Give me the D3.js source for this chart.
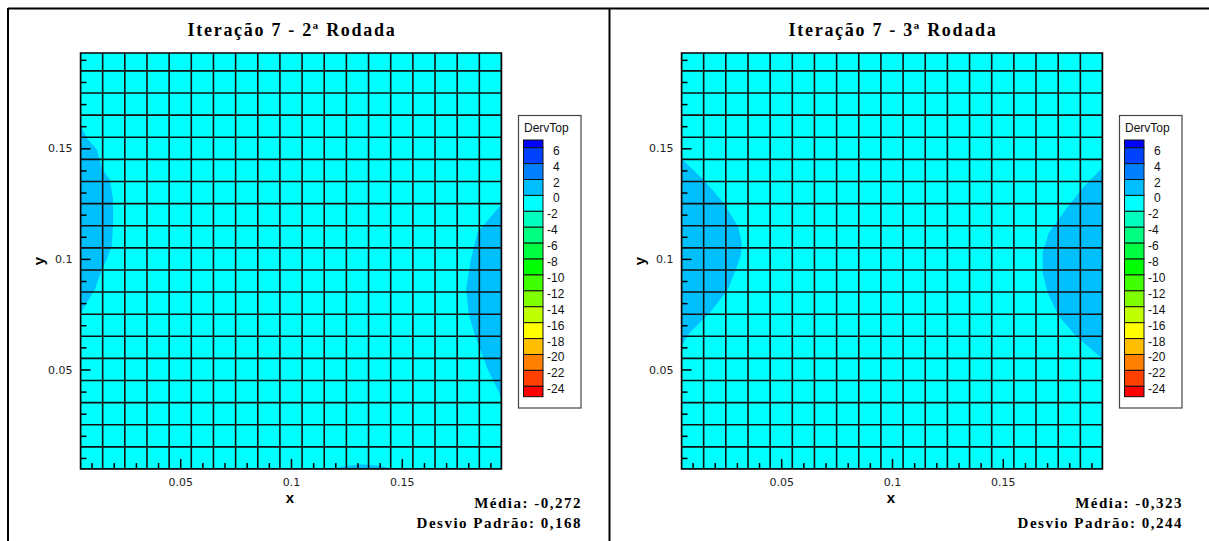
<!DOCTYPE html>
<html>
<head>
<meta charset="utf-8">
<script src="https://cdn.jsdelivr.net/npm/d3@7"></script>
<style>
  html, body { margin: 0; padding: 0; background: #fff; }
  svg { display: block; }
</style>
</head>
<body>
<svg id="chart" width="1209" height="541"></svg>
<script>
// ---------------- DATA ----------------
const panelTitles = ["Iteração 7 - 2ª Rodada", "Iteração 7 - 3ª Rodada"];
const panelMeans = ["-0,272", "-0,323"];
const panelStdDevs = ["0,168", "0,244"];

// domain of the mesh (m)
const xDomain = [0.005, 0.195];
const yDomain = [0.005, 0.1931];

// mesh lines (cell edges)
const meshX = [0.005,0.015,0.025,0.035,0.045,0.055,0.065,0.075,0.085,0.095,0.105,0.115,0.125,0.135,0.145,0.155,0.165,0.175,0.185,0.195];
const meshY = [0.005,0.015,0.025,0.035,0.045,0.055,0.065,0.075,0.085,0.095,0.105,0.115,0.125,0.135,0.145,0.155,0.165,0.175,0.185];

// axis ticks
const majorTicks = [0.05, 0.1, 0.15];
const majorTickLabels = ["0.05", "0.1", "0.15"];
const minorTicks = [0.01,0.02,0.03,0.04,0.06,0.07,0.08,0.09,0.11,0.12,0.13,0.14,0.16,0.17,0.18,0.19];

// legend (DervTop) levels and band colours (top band > 6, bottom band < -24)
const legendLevels = [6,4,2,0,-2,-4,-6,-8,-10,-12,-14,-16,-18,-20,-22,-24];
const legendColors = ["#0000ff","#0040ff","#0080ff","#00bfff","#00ffff","#00ffbf","#00ff80","#00ff40",
                      "#00ff00","#40ff00","#80ff00","#bfff00","#ffff00","#ffbf00","#ff8000","#ff4000","#ff0000"];

// background band (-2..0) fills the field; regions of the 0..2 band (x, y in m)
const run2Band0to2 = [
  [[0.005,0.160],[0.0084,0.154],[0.0124,0.1495],[0.0147,0.1405],[0.0183,0.136],[0.0197,0.127],
   [0.0197,0.1156],[0.0191,0.1057],[0.0165,0.099],[0.0146,0.0952],[0.0115,0.0862],[0.0055,0.0762],[0.005,0.0753]],
  [[0.195,0.1247],[0.1842,0.112],[0.1812,0.0998],[0.1790,0.0862],[0.1803,0.0749],[0.1826,0.0667],
   [0.1888,0.050],[0.1939,0.0396],[0.195,0.0364]],
  [[0.1179,0.005],[0.1247,0.0064],[0.1324,0.0071],[0.1405,0.0064],[0.1464,0.005]]
];
const run3Band0to2 = [
  [[0.005,0.1453],[0.0147,0.136],[0.0238,0.1256],[0.0305,0.1148],[0.0322,0.1075],[0.0319,0.102],
   [0.0301,0.0967],[0.0260,0.0862],[0.0179,0.0758],[0.0088,0.0667],[0.005,0.0605]],
  [[0.195,0.1413],[0.1867,0.1329],[0.1785,0.1224],[0.1708,0.1118],[0.1680,0.1029],[0.1680,0.0939],
   [0.1702,0.0848],[0.1753,0.0741],[0.1830,0.0651],[0.1943,0.0554],[0.195,0.0550]]
];
const panelBands = [run2Band0to2, run3Band0to2];
const fieldColor = "#00ffff";   // band -2..0
const bandColor = "#00bfff";    // band 0..2

// ---------------- DRAW ----------------
const svg = d3.select("#chart");
const panelOffset = 601;

// outer frame
svg.append("line").attr("x1", 8).attr("x2", 1209).attr("y1", 8.5).attr("y2", 8.5)
  .attr("stroke", "#000").attr("stroke-width", 2);
svg.append("line").attr("x1", 8).attr("x2", 8).attr("y1", 8).attr("y2", 541)
  .attr("stroke", "#000").attr("stroke-width", 2);
svg.append("line").attr("x1", 609.5).attr("x2", 609.5).attr("y1", 8).attr("y2", 541)
  .attr("stroke", "#000").attr("stroke-width", 2);

panelTitles.forEach((title, i) => {
  const off = i * panelOffset;
  const g = svg.append("g").attr("transform", `translate(${off},0)`);

  const x = d3.scaleLinear().domain(xDomain).range([80.5, 501.5]);
  const y = d3.scaleLinear().domain(yDomain).range([469, 53]);

  const clipId = "clip" + i;
  g.append("clipPath").attr("id", clipId).append("rect")
    .attr("x", x(xDomain[0])).attr("y", y(yDomain[1]))
    .attr("width", x(xDomain[1]) - x(xDomain[0])).attr("height", y(yDomain[0]) - y(yDomain[1]));

  const plot = g.append("g").attr("clip-path", `url(#${clipId})`);
  plot.append("rect")
    .attr("x", x(xDomain[0])).attr("y", y(yDomain[1]))
    .attr("width", x(xDomain[1]) - x(xDomain[0])).attr("height", y(yDomain[0]) - y(yDomain[1]))
    .attr("fill", fieldColor);

  const line = d3.line().x(d => x(d[0])).y(d => y(d[1])).curve(d3.curveLinear);
  plot.selectAll("path.band").data(panelBands[i]).join("path")
    .attr("class", "band")
    .attr("d", d => line(d) + "Z")
    .attr("fill", bandColor);

  // mesh
  plot.selectAll("line.mx").data(meshX).join("line").attr("class", "mx")
    .attr("x1", d => x(d)).attr("x2", d => x(d))
    .attr("y1", y(yDomain[0])).attr("y2", y(yDomain[1]))
    .attr("stroke", "#111").attr("stroke-width", 1.6);
  plot.selectAll("line.my").data(meshY).join("line").attr("class", "my")
    .attr("y1", d => y(d)).attr("y2", d => y(d))
    .attr("x1", x(xDomain[0])).attr("x2", x(xDomain[1]))
    .attr("stroke", "#111").attr("stroke-width", 1.6);

  // border
  g.append("rect")
    .attr("x", x(xDomain[0])).attr("y", y(yDomain[1]))
    .attr("width", x(xDomain[1]) - x(xDomain[0])).attr("height", y(yDomain[0]) - y(yDomain[1]))
    .attr("fill", "none").attr("stroke", "#000").attr("stroke-width", 1.5);

  // axes
  const fmt = d => majorTickLabels[majorTicks.indexOf(d)];
  const xMajor = g.append("g").attr("transform", `translate(0,${y(yDomain[0])})`)
    .call(d3.axisBottom(x).tickValues(majorTicks).tickFormat(fmt).tickSize(-10).tickPadding(9));
  const xMinor = g.append("g").attr("transform", `translate(0,${y(yDomain[0])})`)
    .call(d3.axisBottom(x).tickValues(minorTicks).tickFormat("").tickSize(-6));
  const yMajor = g.append("g").attr("transform", `translate(${x(xDomain[0])},0)`)
    .call(d3.axisLeft(y).tickValues(majorTicks).tickFormat(fmt).tickSize(-10).tickPadding(8));
  const yMinor = g.append("g").attr("transform", `translate(${x(xDomain[0])},0)`)
    .call(d3.axisLeft(y).tickValues(minorTicks).tickFormat("").tickSize(-6));
  [xMajor, xMinor, yMajor, yMinor].forEach(a => {
    a.select(".domain").remove();
    a.selectAll(".tick line").attr("stroke", "#000").attr("stroke-width", 1.5);
    a.selectAll(".tick text").attr("font-family", "DejaVu Sans").attr("font-size", 11).attr("fill", "#222");
  });

  // axis titles
  g.append("text").attr("x", 290).attr("y", 503).attr("text-anchor", "middle")
    .attr("font-family", "Liberation Sans").attr("font-weight", "bold").attr("font-size", 15)
    .text("x");
  g.append("text").attr("transform", "translate(44,261) rotate(-90)").attr("text-anchor", "middle")
    .attr("font-family", "Liberation Sans").attr("font-weight", "bold").attr("font-size", 15)
    .text("y");

  // title
  g.append("text").attr("x", 292).attr("y", 36).attr("text-anchor", "middle")
    .attr("font-family", "Liberation Serif").attr("font-weight", "bold").attr("font-size", 18)
    .attr("letter-spacing", 1.7)
    .text(title);

  // stats
  g.append("text").attr("x", 582).attr("y", 508).attr("text-anchor", "end")
    .attr("font-family", "Liberation Serif").attr("font-weight", "bold").attr("font-size", 15)
    .attr("letter-spacing", 1.5)
    .text("Média: " + panelMeans[i]);
  g.append("text").attr("x", 582).attr("y", 528).attr("text-anchor", "end")
    .attr("font-family", "Liberation Serif").attr("font-weight", "bold").attr("font-size", 15)
    .attr("letter-spacing", 1.5)
    .text("Desvio Padrão: " + panelStdDevs[i]);

  // legend
  const lg = g.append("g");
  lg.append("rect").attr("x", 518.5).attr("y", 115.5).attr("width", 62.5).attr("height", 292.5)
    .attr("fill", "#fff").attr("stroke", "#444").attr("stroke-width", 1.2);
  lg.append("text").attr("x", 524).attr("y", 132).attr("font-family", "Liberation Sans").attr("font-size", 12)
    .attr("fill", "#111").text("DervTop");
  const ly = d3.scaleLinear().domain([legendLevels[0], legendLevels[legendLevels.length - 1]]).range([147.7, 386.3]);
  const bounds = [140].concat(legendLevels.map(v => ly(v))).concat([396.7]);
  lg.selectAll("rect.sw").data(legendColors).join("rect").attr("class", "sw")
    .attr("x", 523.5).attr("width", 19.5)
    .attr("y", (d, k) => bounds[k]).attr("height", (d, k) => bounds[k + 1] - bounds[k])
    .attr("fill", d => d).attr("stroke", "#111").attr("stroke-width", 1);
  lg.selectAll("text.lv").data(legendLevels).join("text").attr("class", "lv")
    .attr("x", d => d < 0 ? 547 : 553).attr("y", d => ly(d) + 7)
    .attr("font-family", "Liberation Sans").attr("font-size", 12).attr("fill", "#111")
    .text(d => d < 0 ? "-" + Math.abs(d) : String(d));
});
</script>
</body>
</html>
